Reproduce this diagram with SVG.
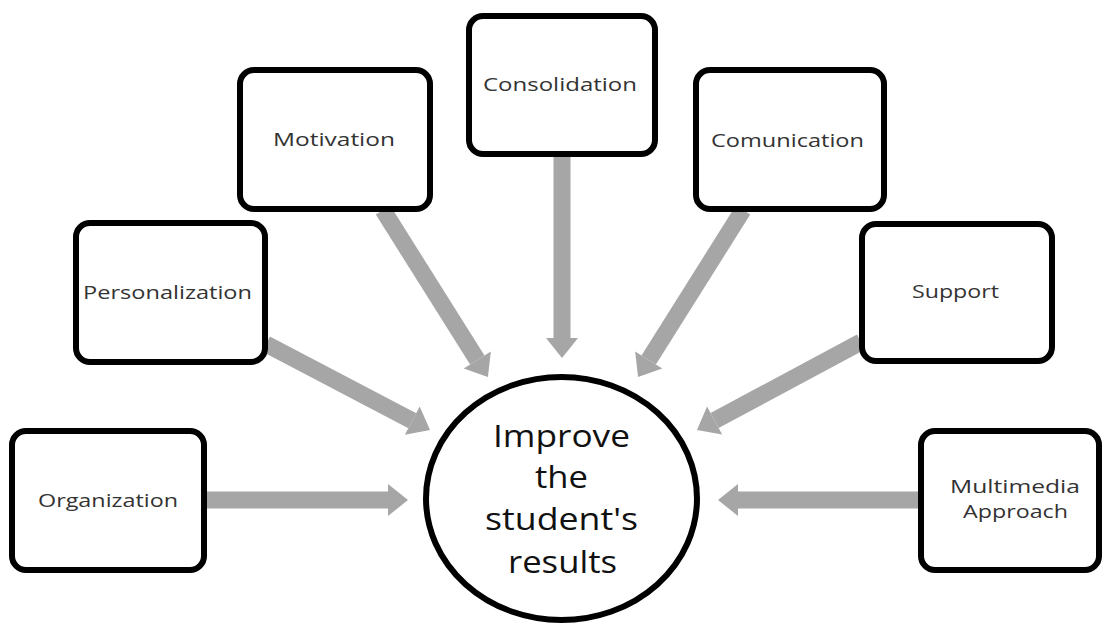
<svg xmlns="http://www.w3.org/2000/svg" width="1102" height="624" viewBox="0 0 1102 624">
<style>
.box{fill:#fff;stroke:#000;stroke-width:6}
.lbl{font-family:"Open Sans","Noto Sans",sans-serif;font-size:19px;fill:#333;text-anchor:middle}
.big{font-family:"Open Sans","Noto Sans",sans-serif;font-size:31px;fill:#111;text-anchor:middle}
.arr{stroke:#a6a6a6;stroke-width:17;fill:none;marker-end:url(#ah)}
</style>
<defs>
<marker id="ah" markerUnits="userSpaceOnUse" markerWidth="21" markerHeight="32" refX="0" refY="16" orient="auto" overflow="visible">
<path d="M0,0 L20,16 L0,32 Z" fill="#a6a6a6"/>
</marker>
</defs>
<rect width="1102" height="624" fill="#fff"/>
<g id="connectors">
<line class="arr" x1="205" y1="500" x2="388" y2="500"/>
<line class="arr" x1="920" y1="500" x2="738" y2="500"/>
<line class="arr" x1="562" y1="155" x2="562" y2="338"/>
<line class="arr" x1="383" y1="210" x2="477.3" y2="360.1"/>
<line class="arr" x1="743" y1="210" x2="648.7" y2="360.1"/>
<line class="arr" x1="266" y1="344" x2="412.3" y2="420.7"/>
<line class="arr" x1="861" y1="342" x2="714.6" y2="420.5"/>
</g>
<g id="organization">
<rect class="box" x="12" y="431" width="192" height="139" rx="14"/>
<text class="lbl" x="108" y="507" textLength="140" lengthAdjust="spacingAndGlyphs">Organization</text>
</g>
<g id="personalization">
<rect class="box" x="76" y="223" width="189" height="139" rx="14"/>
<text class="lbl" x="167.5" y="299" textLength="169" lengthAdjust="spacingAndGlyphs">Personalization</text>
</g>
<g id="motivation">
<rect class="box" x="240" y="70" width="190" height="139" rx="14"/>
<text class="lbl" x="334" y="146" textLength="122" lengthAdjust="spacingAndGlyphs">Motivation</text>
</g>
<g id="consolidation">
<rect class="box" x="469" y="16" width="186" height="138" rx="14"/>
<text class="lbl" x="560" y="91" textLength="154" lengthAdjust="spacingAndGlyphs">Consolidation</text>
</g>
<g id="comunication">
<rect class="box" x="696" y="70" width="188" height="139" rx="14"/>
<text class="lbl" x="787.5" y="147" textLength="153" lengthAdjust="spacingAndGlyphs">Comunication</text>
</g>
<g id="support">
<rect class="box" x="862" y="224" width="190" height="137" rx="14"/>
<text class="lbl" x="955.5" y="298" textLength="87" lengthAdjust="spacingAndGlyphs">Support</text>
</g>
<g id="multimedia">
<rect class="box" x="921" y="431" width="178" height="139" rx="14"/>
<text class="lbl" x="1015" y="493" textLength="130" lengthAdjust="spacingAndGlyphs">Multimedia</text>
<text class="lbl" x="1015.5" y="518" textLength="105" lengthAdjust="spacingAndGlyphs">Approach</text>
</g>
<g id="goal">
<ellipse cx="561.5" cy="498.5" rx="135.5" ry="121.5" fill="#fff" stroke="#000" stroke-width="6"/>
<text class="big" x="561.5" y="447" textLength="137" lengthAdjust="spacingAndGlyphs">Improve</text>
<text class="big" x="561.5" y="488" textLength="53" lengthAdjust="spacingAndGlyphs">the</text>
<text class="big" x="561.5" y="530" textLength="153" lengthAdjust="spacingAndGlyphs">student's</text>
<text class="big" x="562.5" y="573" textLength="109" lengthAdjust="spacingAndGlyphs">results</text>
</g>
</svg>
